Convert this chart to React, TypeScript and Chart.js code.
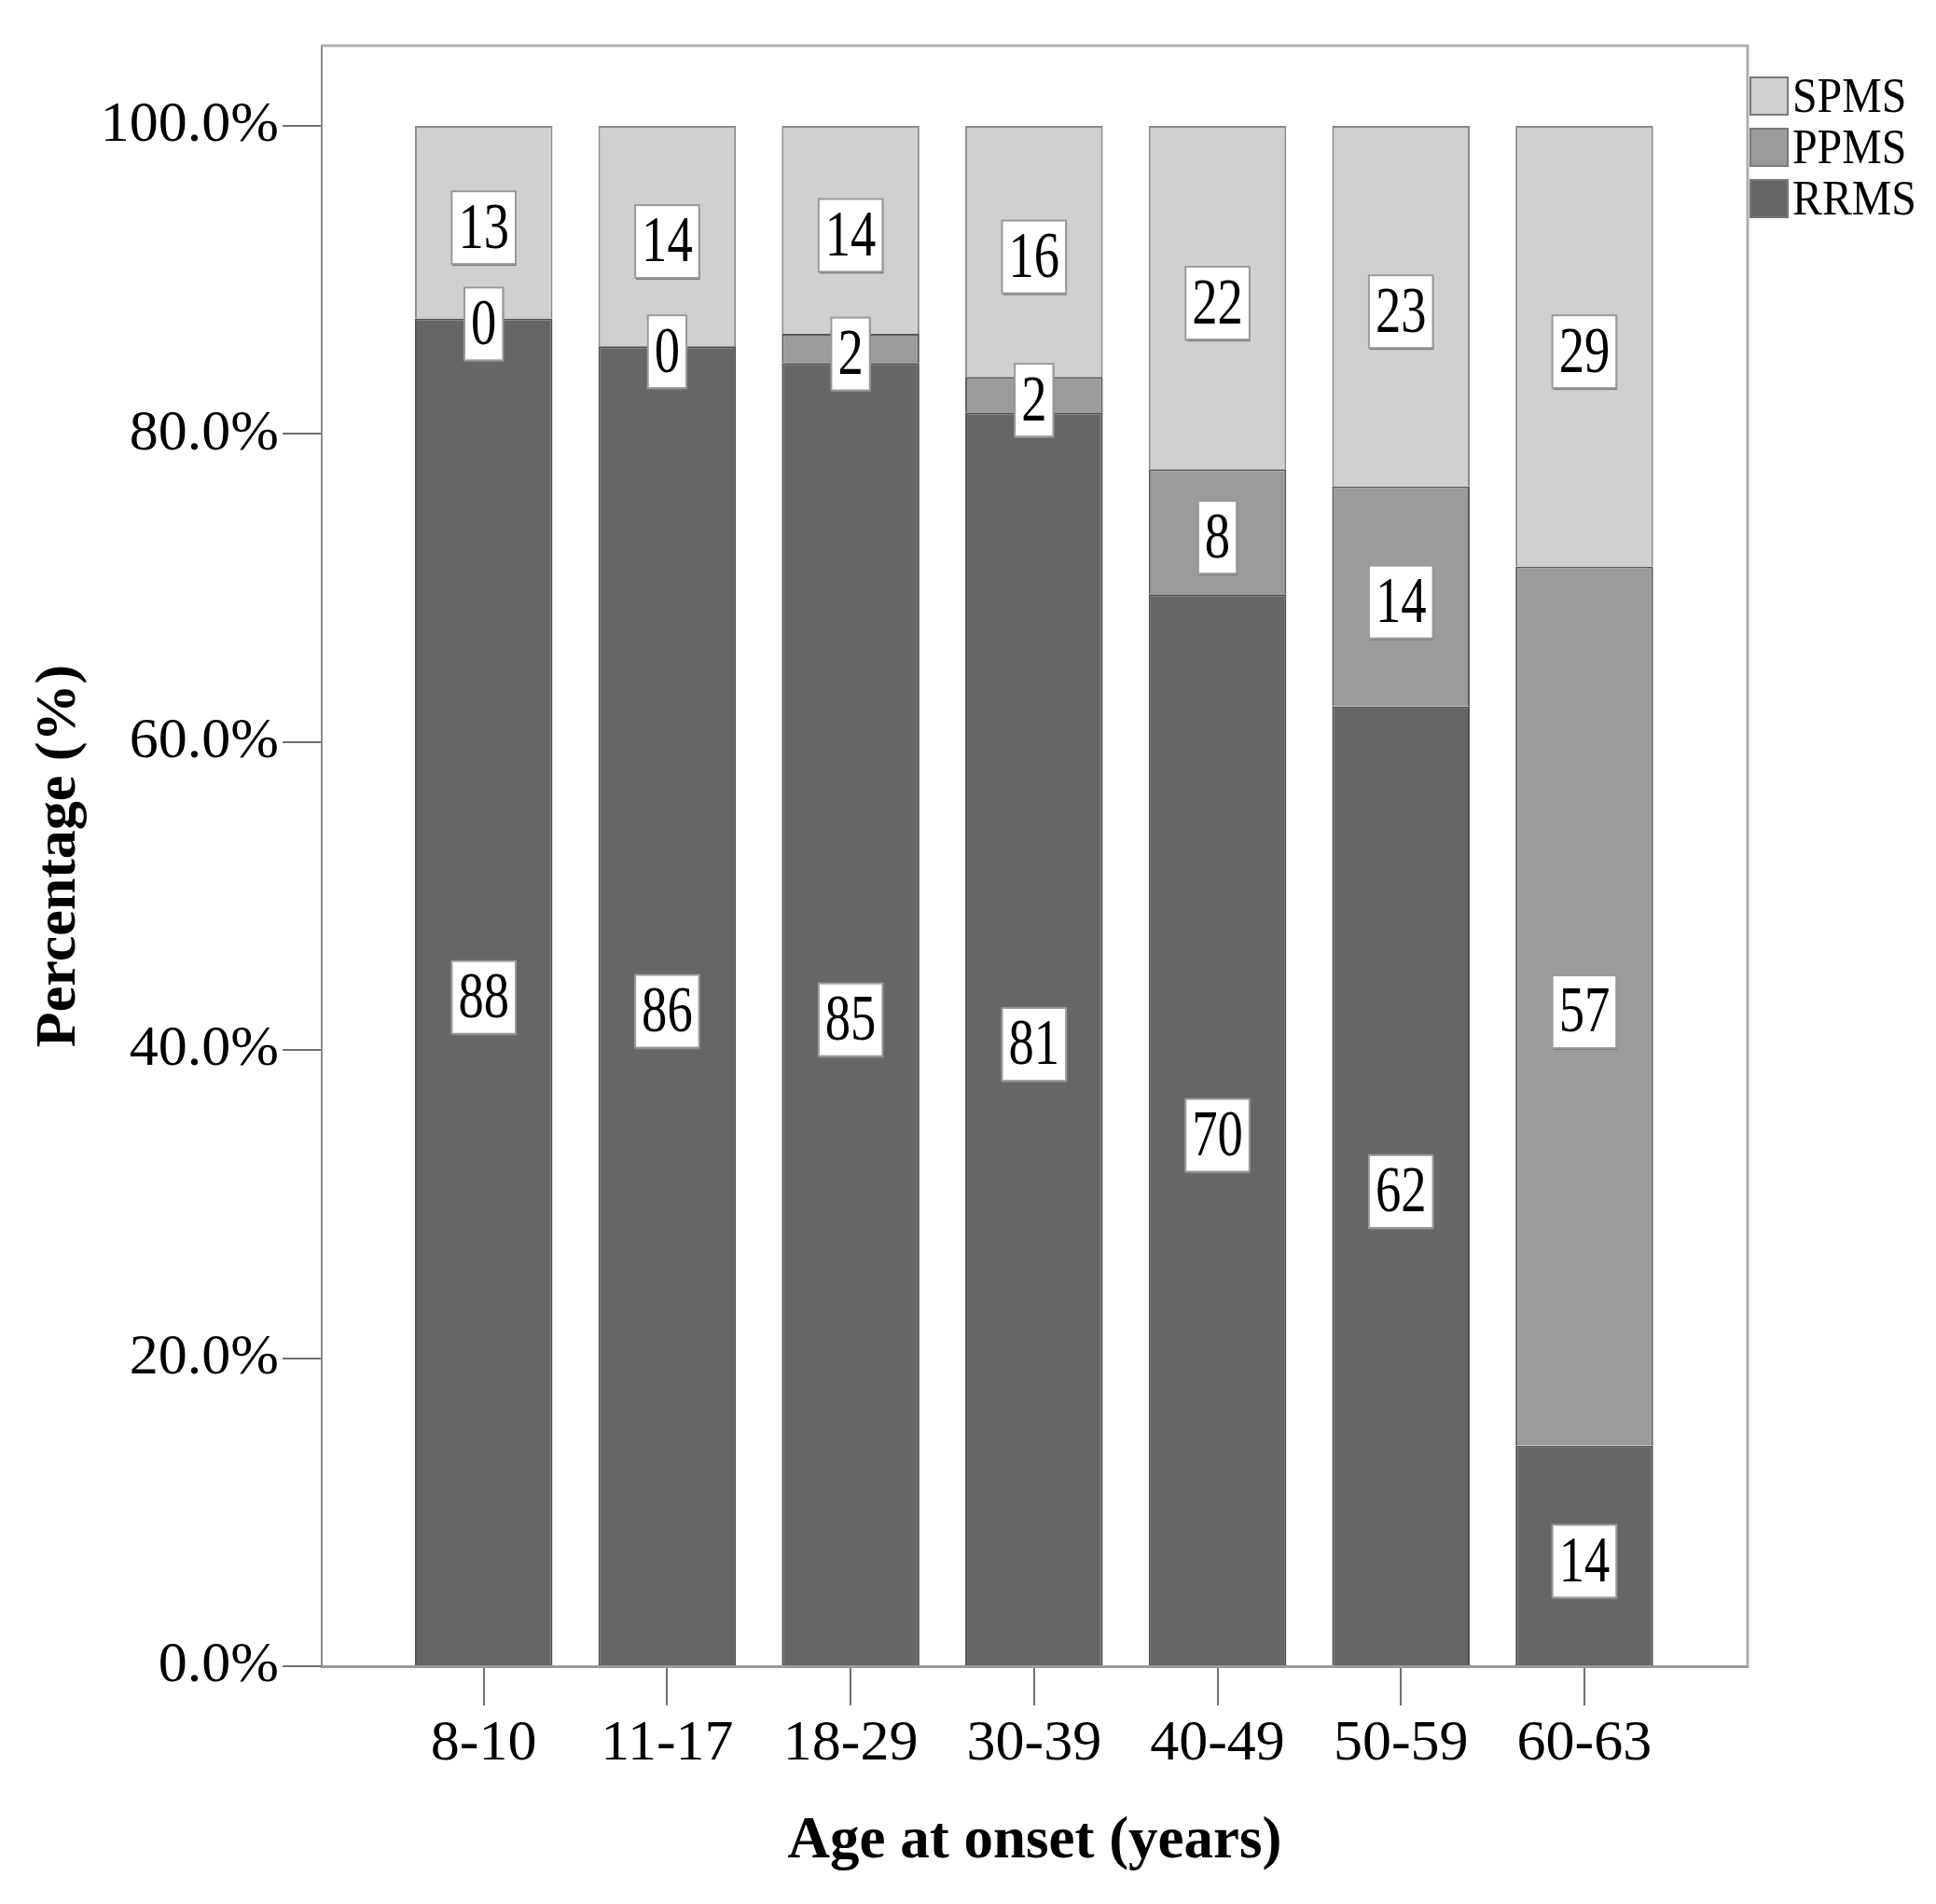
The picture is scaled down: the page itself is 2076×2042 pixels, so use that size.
import React, { useEffect, useRef } from 'react';
import { Chart, registerables } from 'chart.js';

Chart.register(...registerables);

// age groups on the x axis
const AGE_GROUPS = ['8-10', '11-17', '18-29', '30-39', '40-49', '50-59', '60-63'];
// percentages per course (stacked, bottom to top)
const RRMS = [87.5, 85.7, 84.6, 81.4, 69.6, 62.3, 14.3];
const PPMS = [0, 0, 1.9, 2.3, 8.1, 14.3, 57.1];
const SPMS = [12.5, 14.3, 13.5, 16.3, 22.3, 23.4, 28.6];
const Y_TICKS = [0, 20, 40, 60, 80, 100];

const SERIF = "'Liberation Serif', 'Times New Roman', serif";

const toPoints = (vals: number[]) => vals.map((v, i) => ({ x: i, y: v }));

// top + right edge of the plot frame
const framePlugin = {
  id: 'frame',
  beforeDatasetsDraw(chart: any) {
    const { ctx, chartArea } = chart;
    ctx.save();
    ctx.strokeStyle = '#b0b0b0';
    ctx.lineWidth = 3;
    ctx.beginPath();
    ctx.moveTo(chartArea.left, chartArea.top);
    ctx.lineTo(chartArea.right, chartArea.top);
    ctx.lineTo(chartArea.right, chartArea.bottom);
    ctx.stroke();
    ctx.restore();
  },
};

// white boxed value labels in the middle of each segment
const boxLabels = {
  id: 'boxLabels',
  afterDatasetsDraw(chart: any) {
    const ctx = chart.ctx;
    ctx.save();
    ctx.font = `70px ${SERIF}`;
    chart.data.datasets.forEach((ds: any, i: number) => {
      const meta = chart.getDatasetMeta(i);
      meta.data.forEach((el: any, j: number) => {
        const { x, y, base } = el.getProps(['x', 'y', 'base'], true);
        const text = String(Math.round(ds.data[j].y));
        const tw = ctx.measureText(text).width * 0.78;
        const w = tw + 14;
        const h = 78;
        const cy = (y + base) / 2 + 6;
        ctx.fillStyle = '#7a7a7a';
        ctx.fillRect(x - w / 2 + 1, cy - h / 2 + 2, w, h);
        ctx.fillStyle = '#ffffff';
        ctx.fillRect(x - w / 2, cy - h / 2, w, h);
        ctx.strokeStyle = '#9a9a9a';
        ctx.lineWidth = 2;
        ctx.strokeRect(x - w / 2, cy - h / 2, w, h);
        ctx.save();
        ctx.translate(x, cy);
        ctx.scale(0.78, 1);
        ctx.fillStyle = '#000';
        ctx.textAlign = 'center';
        ctx.textBaseline = 'middle';
        ctx.fillText(text, 0, 3);
        ctx.restore();
      });
    });
    ctx.restore();
  },
};

// legend outside the frame, top right
const sideLegend = {
  id: 'sideLegend',
  afterDraw(chart: any) {
    const { ctx, chartArea } = chart;
    const items = [...chart.data.datasets].reverse();
    ctx.save();
    items.forEach((ds: any, k: number) => {
      const top = 82 + k * 55;
      const left = chartArea.right + 2;
      ctx.fillStyle = ds.backgroundColor;
      ctx.fillRect(left, top, 42, 42);
      ctx.strokeStyle = '#7a7a7a';
      ctx.lineWidth = 2;
      ctx.strokeRect(left + 1, top + 1, 40, 40);
      ctx.save();
      ctx.translate(left + 46, top + 24);
      ctx.scale(0.92, 1);
      ctx.fillStyle = '#000';
      ctx.font = `52px ${SERIF}`;
      ctx.textAlign = 'left';
      ctx.textBaseline = 'middle';
      ctx.fillText(ds.label, 0, 0);
      ctx.restore();
    });
    ctx.restore();
  },
};

export default function App() {
  const canvasRef = useRef<HTMLCanvasElement | null>(null);

  useEffect(() => {
    if (!canvasRef.current) return;

    const barBorder = { top: 2, left: 2, right: 2, bottom: 0 };

    const chart = new Chart(canvasRef.current, {
      type: 'bar',
      data: {
        datasets: [
          {
            label: 'RRMS',
            data: toPoints(RRMS),
            backgroundColor: '#666666',
            borderColor: '#505050',
            borderWidth: barBorder,
            borderSkipped: false,
          },
          {
            label: 'PPMS',
            data: toPoints(PPMS),
            backgroundColor: '#9b9b9b',
            borderColor: '#5a5a5a',
            borderWidth: barBorder,
            borderSkipped: false,
          },
          {
            label: 'SPMS',
            data: toPoints(SPMS),
            backgroundColor: '#d0d0d0',
            borderColor: '#8a8a8a',
            borderWidth: barBorder,
            borderSkipped: false,
          },
        ] as any,
      },
      options: {
        animation: false,
        responsive: true,
        maintainAspectRatio: false,
        devicePixelRatio: 1,
        datasets: {
          bar: { barPercentage: 0.75, categoryPercentage: 1 },
        },
        layout: { padding: { top: 49, right: 202, left: 0, bottom: 0 } },
        scales: {
          x: {
            type: 'linear',
            position: 'bottom',
            min: -0.883,
            max: 6.89,
            stacked: true,
            offset: false,
            afterBuildTicks: (axis: any) => {
              axis.ticks = AGE_GROUPS.map((_, i) => ({ value: i }));
            },
            afterFit: (scale: any) => {
              scale.height = 255;
            },
            grid: {
              display: true,
              offset: false,
              drawOnChartArea: false,
              drawTicks: true,
              tickLength: 42,
              color: '#707070',
              lineWidth: 2,
            },
            border: { display: true, color: '#9a9a9a', width: 3 },
            ticks: {
              autoSkip: false,
              maxRotation: 0,
              minRotation: 0,
              padding: 5,
              color: '#000',
              font: { family: SERIF, size: 62 },
              callback: (v: any) => AGE_GROUPS[Number(v)] ?? '',
            },
            title: {
              display: true,
              text: 'Age at onset (years)',
              color: '#000',
              font: { family: SERIF, size: 63, weight: 'bold' },
              padding: { top: 0, bottom: 28 },
            },
          },
          y: {
            type: 'linear',
            min: 0,
            max: 105.2,
            stacked: true,
            afterBuildTicks: (axis: any) => {
              axis.ticks = Y_TICKS.map((v) => ({ value: v }));
            },
            afterFit: (scale: any) => {
              scale.width = 345;
            },
            grid: {
              display: true,
              drawOnChartArea: false,
              drawTicks: true,
              tickLength: 42,
              color: '#707070',
              lineWidth: 2,
            },
            border: { display: true, color: '#8a8a8a', width: 2 },
            ticks: {
              padding: 4,
              color: '#000',
              font: { family: SERIF, size: 62 },
              callback: (v: any) => Number(v).toFixed(1) + '%',
            },
            title: {
              display: true,
              text: 'Percentage (%)',
              color: '#000',
              font: { family: SERIF, size: 62, weight: 'bold' },
              padding: { top: 27, bottom: 0 },
            },
          },
        },
        plugins: {
          legend: { display: false },
          tooltip: { enabled: false },
        },
      } as any,
      plugins: [framePlugin, boxLabels, sideLegend],
    });

    return () => {
      chart.destroy();
    };
  }, []);

  return (
    <div style={{ position: 'fixed', left: 0, top: 0, width: 2076, height: 2042, background: '#fff' }}>
      <canvas ref={canvasRef} />
    </div>
  );
}
